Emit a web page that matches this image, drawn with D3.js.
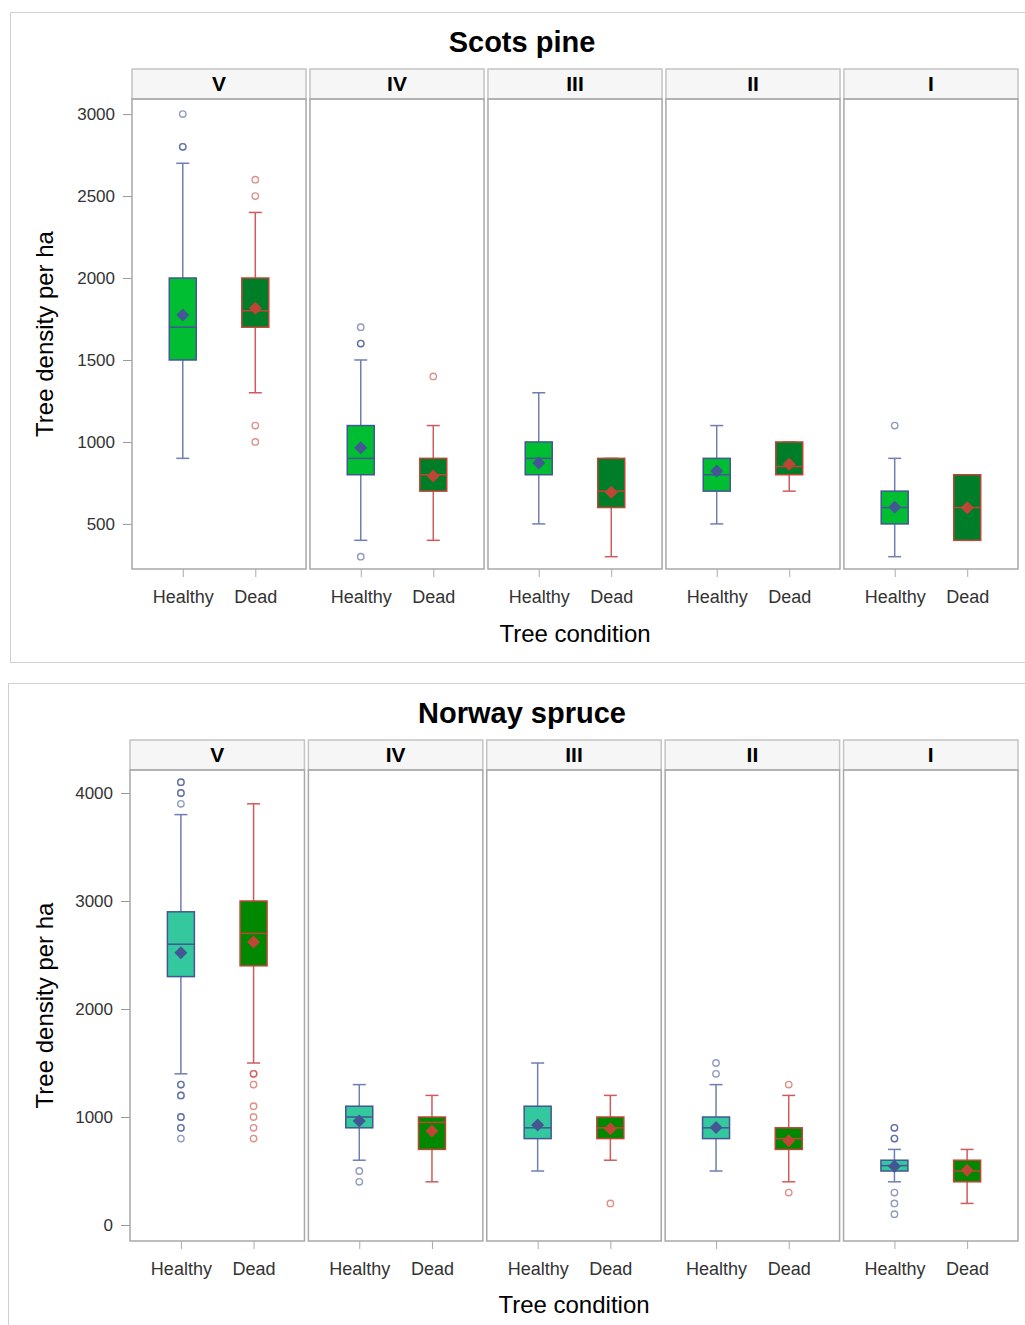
<!DOCTYPE html>
<html><head><meta charset="utf-8">
<script src="https://cdn.jsdelivr.net/npm/d3@7"></script>
<style>body{margin:0;background:#fff} svg{display:block;font-family:"Liberation Sans",Arial,sans-serif}</style>
</head><body><svg id="chart" width="1025" height="1325"></svg>
<script>
const siteClasses = ["V","IV","III","II","I"];
const conditions = ["Healthy","Dead"];
// per site class: [whiskerLow, q1, median, q3, whiskerHigh, mean]
const pineHealthyStats = [[900,1500,1700,2000,2700,1775],[400,800,900,1100,1500,965],[500,800,900,1000,1300,872],[500,700,800,900,1100,823],[300,500,600,700,900,602]];
const pineDeadStats = [[1300,1700,1800,2000,2400,1815],[400,700,800,900,1100,793],[300,600,700,900,900,693],[700,800,850,1000,1000,864],[400,400,600,800,800,598]];
const pineHealthyOutliers = [[3000,2800,2800],[1700,1600,1600,300],[],[],[1100]];
const pineDeadOutliers = [[2600,2500,1100,1000],[1400],[],[],[]];
const pineTicks = [500,1000,1500,2000,2500,3000];

const spruceHealthyStats = [[1400,2300,2600,2900,3800,2520],[600,900,1000,1100,1300,963],[500,800,900,1100,1500,926],[500,800,900,1000,1300,904],[400,500,550,600,700,543]];
const spruceDeadStats = [[1500,2400,2700,3000,3900,2620],[400,700,950,1000,1200,870],[600,800,900,1000,1200,892],[400,700,800,900,1200,781],[200,400,500,600,700,506]];
const spruceHealthyOutliers = [[4100,4100,4000,4000,3900,1300,1300,1200,1200,1000,1000,900,900,800],[500,400],[],[1500,1400],[900,900,800,800,300,200,100]];
const spruceDeadOutliers = [[1400,1400,1300,1100,1000,900,800],[],[200],[1300,300],[]];
const spruceTicks = [0,1000,2000,3000,4000];

const svg = d3.select("#chart");
const charts = [
  {title:"Scots pine", fx:10, fy:12, titleY:52, headerTop:69, plotTop:99, plotBottom:569, left:132, right:1018,
   domain:[225,3092], ticks:pineTicks, stats:[pineHealthyStats,pineDeadStats], outs:[pineHealthyOutliers,pineDeadOutliers],
   fills:["#00BE32","#007D28"], xTitleY:642},
  {title:"Norway spruce", fx:8, fy:683, titleY:723, headerTop:740, plotTop:770, plotBottom:1241, left:130, right:1018,
   domain:[-148,4213], ticks:spruceTicks, stats:[spruceHealthyStats,spruceDeadStats], outs:[spruceHealthyOutliers,spruceDeadOutliers],
   fills:["#33C89E","#008800"], xTitleY:1313}
];
const lineCol = ["#445694","#BF4536"];
const whiskCol = ["#6F7EB3","#D05B5B"];
const outCol = ["#445694","#C8483C"];

function draw(c){
  const g = svg.append("g");
  g.append("rect").attr("x",c.fx+0.5).attr("y",c.fy+0.5).attr("width",1040).attr("height",650)
    .attr("fill","none").attr("stroke","#d0d0d0");
  g.append("text").attr("x",522).attr("y",c.titleY).attr("text-anchor","middle")
    .style("font-size","29px").style("font-weight","bold").attr("fill","#000").text(c.title);
  const px = d3.scaleBand().domain(siteClasses).range([c.left,c.right]).paddingInner(0.022);
  const y = d3.scaleLinear().domain(c.domain).range([c.plotBottom,c.plotTop]);
  const ya = g.append("g").attr("transform",`translate(${c.left},0)`)
    .call(d3.axisLeft(y).tickValues(c.ticks).tickFormat(d3.format("d")).tickSize(9).tickPadding(8));
  ya.select(".domain").remove();
  ya.selectAll("line").attr("stroke","#999");
  ya.selectAll("text").style("font-size","17px").attr("fill","#333").style("font-family","inherit");
  g.append("text").attr("transform",`translate(53,${(c.plotTop+c.plotBottom)/2}) rotate(-90)`)
    .attr("text-anchor","middle").style("font-size","24px").attr("fill","#000").text("Tree density per ha");
  g.append("text").attr("x",(c.left+c.right)/2).attr("y",c.xTitleY).attr("text-anchor","middle")
    .style("font-size","24px").attr("fill","#000").text("Tree condition");

  siteClasses.forEach((sc,i)=>{
    const x0 = px(sc), w = px.bandwidth();
    g.append("rect").attr("x",x0).attr("y",c.headerTop).attr("width",w).attr("height",c.plotTop-c.headerTop)
      .attr("fill","#f6f6f6").attr("stroke","#c4c4c4").attr("stroke-width",1.5);
    g.append("text").attr("x",x0+w/2).attr("y",c.headerTop+22).attr("text-anchor","middle")
      .style("font-size","21px").style("font-weight","bold").attr("fill","#000").text(sc);
    g.append("rect").attr("x",x0).attr("y",c.plotTop).attr("width",w).attr("height",c.plotBottom-c.plotTop)
      .attr("fill","none").attr("stroke","#a8a8a8").attr("stroke-width",1.5);
    const xs = d3.scalePoint().domain(conditions).range([x0,x0+w]).padding(0.7);
    const xa = g.append("g").attr("transform",`translate(0,${c.plotBottom})`)
      .call(d3.axisBottom(xs).tickSize(8).tickPadding(13));
    xa.select(".domain").remove();
    xa.selectAll("line").attr("stroke","#aaa");
    xa.selectAll("text").style("font-size","18px").attr("fill","#333").style("font-family","inherit");

    conditions.forEach((cond,k)=>{
      const s = c.stats[k][i];
      const cx = xs(cond);
      const bw = 27, cw = 13;
      const [lo,q1,med,q3,hi,mean] = s;
      const bg = g.append("g");
      bg.append("line").attr("x1",cx).attr("x2",cx).attr("y1",y(hi)).attr("y2",y(q3)).attr("stroke",whiskCol[k]).attr("stroke-width",1.5);
      bg.append("line").attr("x1",cx).attr("x2",cx).attr("y1",y(q1)).attr("y2",y(lo)).attr("stroke",whiskCol[k]).attr("stroke-width",1.5);
      [hi,lo].forEach(v=>bg.append("line").attr("x1",cx-cw/2).attr("x2",cx+cw/2).attr("y1",y(v)).attr("y2",y(v))
        .attr("stroke",whiskCol[k]).attr("stroke-width",1.5));
      bg.append("rect").attr("x",cx-bw/2).attr("y",y(q3)).attr("width",bw).attr("height",y(q1)-y(q3))
        .attr("fill",c.fills[k]).attr("stroke",lineCol[k]).attr("stroke-width",1.5);
      bg.append("line").attr("x1",cx-bw/2).attr("x2",cx+bw/2).attr("y1",y(med)).attr("y2",y(med))
        .attr("stroke",lineCol[k]).attr("stroke-width",1.5);
      const my = y(mean), d = 6.5;
      bg.append("path").attr("d",`M${cx},${my-d}L${cx+d},${my}L${cx},${my+d}L${cx-d},${my}Z`).attr("fill",lineCol[k]);
      c.outs[k][i].forEach(v=>{
        bg.append("circle").attr("cx",cx).attr("cy",y(v)).attr("r",3.2).attr("fill","none")
          .attr("stroke",outCol[k]).attr("stroke-width",1.4).attr("stroke-opacity",0.6);
      });
    });
  });
}
charts.forEach(draw);
</script></body></html>
